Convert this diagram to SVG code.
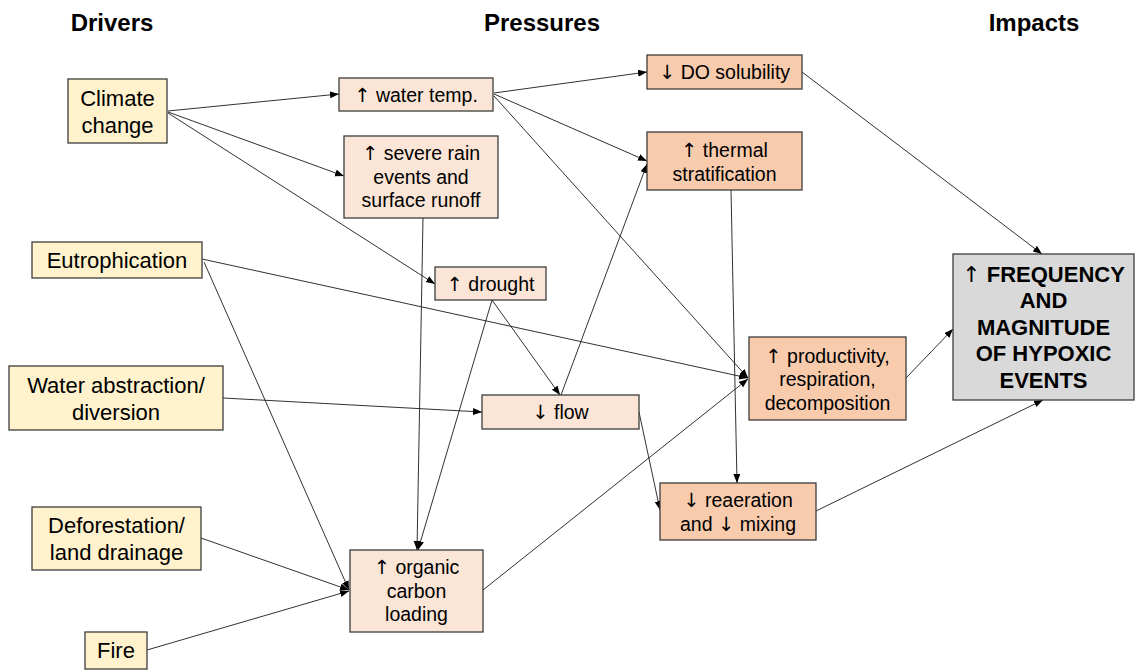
<svg xmlns="http://www.w3.org/2000/svg" width="1137" height="671" viewBox="0 0 1137 671">
<style>
.bg{fill:#ffffff}
.box{stroke:#3c3c3c;stroke-width:1.3}
.drv{fill:#FFF2CC}
.pl{fill:#FBE5D6}
.pd{fill:#F8CBAD}
.imp{fill:#D9D9D9}
.hd{font-family:"Liberation Sans",Arial,sans-serif;font-size:24px;font-weight:bold;fill:#000;text-anchor:middle}
.td{font-family:"Liberation Sans",Arial,sans-serif;font-size:22px;fill:#000;text-anchor:middle}
.tp{font-family:"Liberation Sans",Arial,sans-serif;font-size:19.5px;fill:#000;text-anchor:middle}
.ti{font-family:"Liberation Sans",Arial,sans-serif;font-size:22px;font-weight:bold;fill:#000;text-anchor:middle}
.ar{font-family:"DejaVu Sans",sans-serif;font-weight:normal;fill:#000}
.cn line{stroke:#1a1a1a;stroke-width:0.9;fill:none;marker-end:url(#ah)}
</style>
<defs>
<marker id="ah" markerUnits="userSpaceOnUse" markerWidth="10" markerHeight="8" refX="9" refY="3.5" orient="auto">
<path d="M0,0 L9,3.5 L0,7 z" fill="#000"/>
</marker>
</defs>
<rect class="bg" x="0" y="0" width="1137" height="671"/>
<g id="headings">
<text class="hd" x="112" y="31">Drivers</text>
<text class="hd" x="542" y="31">Pressures</text>
<text class="hd" x="1034" y="31">Impacts</text>
</g>
<g id="connectors" class="cn">
<line x1="168" y1="111" x2="339" y2="94"/>
<line x1="168" y1="112" x2="344" y2="176"/>
<line x1="168" y1="113" x2="435" y2="284"/>
<line x1="494" y1="93" x2="647" y2="72"/>
<line x1="494" y1="94" x2="647" y2="161"/>
<line x1="494" y1="96" x2="748" y2="378"/>
<line x1="802" y1="72" x2="1042" y2="254"/>
<line x1="731" y1="190" x2="737" y2="483"/>
<line x1="423" y1="218" x2="417" y2="550"/>
<line x1="492" y1="300" x2="560" y2="395"/>
<line x1="492" y1="300" x2="418" y2="550"/>
<line x1="561" y1="395" x2="647" y2="164"/>
<line x1="202" y1="259" x2="748" y2="378"/>
<line x1="204" y1="262" x2="349" y2="590"/>
<line x1="223" y1="398" x2="482" y2="412"/>
<line x1="201" y1="538" x2="349" y2="590"/>
<line x1="147" y1="650" x2="349" y2="591"/>
<line x1="483" y1="590" x2="748" y2="379"/>
<line x1="639" y1="412" x2="660" y2="510"/>
<line x1="906" y1="378" x2="953" y2="329"/>
<line x1="816" y1="511" x2="1043" y2="400"/>
</g>
<g id="climate">
<rect class="box drv" x="68" y="79" width="99" height="64"/>
<text class="td" x="117.5" y="105.5">Climate</text>
<text class="td" x="117.5" y="132.5">change</text>
</g>
<g id="eutrophication">
<rect class="box drv" x="32" y="242" width="170" height="36"/>
<text class="td" x="117" y="267.5">Eutrophication</text>
</g>
<g id="abstraction">
<rect class="box drv" x="9" y="366" width="214" height="64"/>
<text class="td" x="116" y="392.5">Water abstraction/</text>
<text class="td" x="116" y="419.5">diversion</text>
</g>
<g id="deforestation">
<rect class="box drv" x="32" y="507" width="169" height="63"/>
<text class="td" x="116.5" y="533">Deforestation/</text>
<text class="td" x="116.5" y="560">land drainage</text>
</g>
<g id="fire">
<rect class="box drv" x="85" y="632" width="62" height="37"/>
<text class="td" x="116" y="658">Fire</text>
</g>
<g id="watertemp">
<rect class="box pl" x="339" y="78" width="154" height="33"/>
<text class="tp" x="416" y="101.5"><tspan class="ar">↑</tspan> water temp.</text>
</g>
<g id="rain">
<rect class="box pl" x="344" y="136" width="154" height="82"/>
<text class="tp" x="421" y="160"><tspan class="ar">↑</tspan> severe rain</text>
<text class="tp" x="421" y="183.5">events and</text>
<text class="tp" x="421" y="207">surface runoff</text>
</g>
<g id="drought">
<rect class="box pl" x="435" y="267" width="111" height="33"/>
<text class="tp" x="490.5" y="290.5"><tspan class="ar">↑</tspan> drought</text>
</g>
<g id="flow">
<rect class="box pl" x="482" y="395" width="157" height="34"/>
<text class="tp" x="560.5" y="419"><tspan class="ar">↓</tspan> flow</text>
</g>
<g id="organic">
<rect class="box pl" x="350" y="550" width="133" height="82"/>
<text class="tp" x="416.5" y="574"><tspan class="ar">↑</tspan> organic</text>
<text class="tp" x="416.5" y="597.5">carbon</text>
<text class="tp" x="416.5" y="621">loading</text>
</g>
<g id="dosolubility">
<rect class="box pd" x="647" y="55" width="155" height="34"/>
<text class="tp" x="724.5" y="79"><tspan class="ar">↓</tspan> DO solubility</text>
</g>
<g id="thermal">
<rect class="box pd" x="647" y="132" width="155" height="58"/>
<text class="tp" x="724.5" y="157"><tspan class="ar">↑</tspan> thermal</text>
<text class="tp" x="724.5" y="180.5">stratification</text>
</g>
<g id="productivity">
<rect class="box pd" x="749" y="337" width="157" height="83"/>
<text class="tp" x="827.5" y="362.5"><tspan class="ar">↑</tspan> productivity,</text>
<text class="tp" x="827.5" y="386">respiration,</text>
<text class="tp" x="827.5" y="409.5">decomposition</text>
</g>
<g id="reaeration">
<rect class="box pd" x="660" y="483" width="156" height="57"/>
<text class="tp" x="738" y="507"><tspan class="ar">↓</tspan> reaeration</text>
<text class="tp" x="738" y="530.5">and <tspan class="ar">↓</tspan> mixing</text>
</g>
<g id="hypoxic">
<rect class="box imp" x="953" y="254" width="181" height="146"/>
<text class="ti" x="1043.5" y="281.5"><tspan class="ar">↑</tspan> FREQUENCY</text>
<text class="ti" x="1043.5" y="308">AND</text>
<text class="ti" x="1043.5" y="334.5">MAGNITUDE</text>
<text class="ti" x="1043.5" y="361">OF HYPOXIC</text>
<text class="ti" x="1043.5" y="387.5">EVENTS</text>
</g>
</svg>
